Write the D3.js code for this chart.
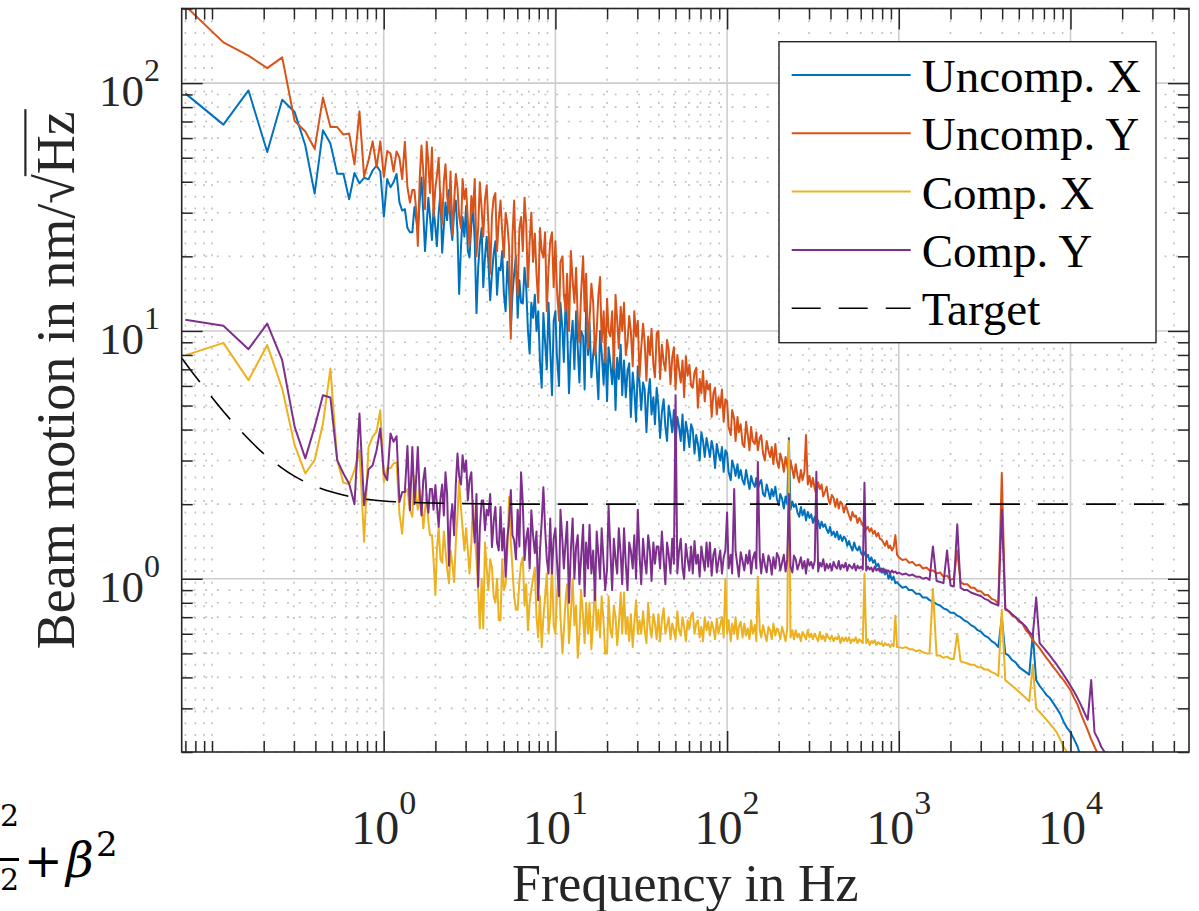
<!DOCTYPE html>
<html>
<head>
<meta charset="utf-8">
<script src="https://cdn.jsdelivr.net/npm/d3@7"></script>
<style>
  body { margin: 0; background: #fff; }
  svg { display: block; }
</style>
</head>
<body>
<div id="grafico"></div>
<script>
// Frequências (Hz): bins lineares no início, depois ~100 pontos por década
const freqLow = [0.0699,0.1165,0.1631,0.2097,0.2563,0.3029,0.3495,0.3961,0.4427,0.4893,0.5359,0.5825,0.6291,0.6757,0.7223,0.7689,0.8155,0.8621,0.9087,0.9553,1.0019,1.0485,1.0951,1.1417,1.1883,1.2349,1.2815,1.3281,1.3747,1.4213,1.4679];
const freqD0 = [1.51,1.55,1.58,1.62,1.66,1.70,1.74,1.78,1.82,1.86, 1.91,1.95,2.00,2.04,2.09,2.14,2.19,2.24,2.29,2.34, 2.40,2.45,2.51,2.57,2.63,2.69,2.75,2.82,2.88,2.95, 3.02,3.09,3.16,3.24,3.31,3.39,3.47,3.55,3.63,3.72, 3.80,3.89,3.98,4.07,4.17,4.27,4.37,4.47,4.57,4.68, 4.79,4.90,5.01,5.13,5.25,5.37,5.50,5.62,5.75,5.89, 6.03,6.17,6.31,6.46,6.61,6.76,6.92,7.08,7.24,7.41, 7.59,7.76,7.94,8.13,8.32,8.51,8.71,8.91,9.12,9.33, 9.55,9.77];
const freqD1 = [10.0,10.2,10.5,10.7,11.0,11.2,11.5,11.7,12.0,12.3, 12.6,12.9,13.2,13.5,13.8,14.1,14.5,14.8,15.1,15.5, 15.8,16.2,16.6,17.0,17.4,17.8,18.2,18.6,19.1,19.5, 20.0,20.4,20.9,21.4,21.9,22.4,22.9,23.4,24.0,24.5, 25.1,25.7,26.3,26.9,27.5,28.2,28.8,29.5,30.2,30.9, 31.6,32.4,33.1,33.9,34.7,35.5,36.3,37.2,38.0,38.9, 39.8,40.7,41.7,42.7,43.7,44.7,45.7,46.8,47.9,49.0, 50.1,51.3,52.5,53.7,55.0,56.2,57.5,58.9,60.3,61.7, 63.1,64.6,66.1,67.6,69.2,70.8,72.4,74.1,75.9,77.6, 79.4,81.3,83.2,85.1,87.1,89.1,91.2,93.3,95.5,97.7];
const freqD2 = [100,102,105,107,110,112,115,117,120,123, 126,129,132,135,138,141,145,148,151,155, 158,162,166,170,174,178,182,186,191,195, 200,204,209,214,219,224,229,234,240,245, 251,257,263,269,275,282,288,295,302,309, 316,324,331,339,347,355,363,372,380,389, 398,407,417,427,437,447,457,468,479,490, 501,513,525,537,550,562,575,589,603,617, 631,646,661,676,692,708,724,741,759,776, 794,813,832,851,871,891,912,933,955,977];
const freqD3 = [1000,1050,1100,1150,1200,1260,1320,1380,1450,1510,1580,1660,1740,1820,1910,2000,2090,2190,2290,2400,2510,2630,2750,2880,3020,3160,3310,3470,3630,3800,3980,4170,4370,4570,4790,5010,5250,5500,5750,6030,6310,6610,6920,7240,7590,7940,8320,8710,9120,9550];
const freqD4 = [10000,10500,11000,11500,12000,12600,13200,13800,14500,15100,15800,16600,17400];
const frequencias = [].concat(freqLow, freqD0, freqD1, freqD2, freqD3, freqD4);

// Movimento do feixe em nm/sqrt(Hz), na mesma ordem das frequências
const uncompX = [].concat(
  [90.9,68,93.4,52.7,85.7,76.4,56,35.8,64.5,57,43.1,43.1,34,43.4,39.4,41.5,40.9,44.4,46.5,44,29,41,38,39.8,43,33,30.6,31,26,25,25],
  [31.6,28,25.4,33,41.6,30,21,27,34.5,29, 23.3,31,26.2,22,30,36,20.7,26.2,33,28, 37,27,23.3,30,33.6,25,14.1,22,28.8,24, 32,21,19.8,27,31.6,23,11.8,18,22.5,26, 15,20,24,19,13.3,17,20.5,23,14,18, 17.6,21,14.1,12,19,15,10.1,14,17,20, 11.3,16,13,12.9,18,15,10,8.1,13,11.3, 14,10,12,7.5,5.9,11.8,9,7,13,8.5, 5.5,11],
  [12,8,6,13,10,7.5,14,10.5,5.6,9, 11,7,12,8.5,6.2,10,9.5,5.8,12.5,8, 10.8,6.5,8,9.3,7,5.3,10,8.2,6.1,9, 5.2,8.6,7.4,6.1,8.2,4.8,7.8,6.4,8.8,5.5, 7.6,5.4,6.9,7.4,4.5,6.8,5.8,4.3,7.2,6.2, 4.8,6.2,5.8,3.9,5.5,6.4,4.6,5.4,4.2,5.9, 5,3.7,4.7,5.3,4.1,3.6,5,4.5,3.9,4.8, 3.5,4.5,4.1,3.6,4.6,3.3,4.3,3.9,3.4,4.2, 4,3.2,3.8,3.5,3,3.9,3.6,3.1,3.7,3.4, 3.1,3.6,3.3,2.8,3.5,3.2,3.0,3.4,2.7,3.3],
  [3.2,2.7,2.5,3.0,2.8,2.6,2.9,2.55,2.75,2.5, 2.4,2.75,2.5,2.3,2.6,2.45,2.35,2.55,2.3,2.45, 2.5,2.2,2.15,2.4,2.25,2.1,2.3,2.15,2.35,2.1, 1.98,2.2,2.1,1.92,2.15,2.0,3.7,1.9,2.05,1.95, 2.0,1.85,1.78,1.95,1.8,1.9,1.72,1.86,1.76,1.82, 1.68,1.78,1.65,1.72,1.6,1.7,1.62,1.66,1.58,1.53, 1.62,1.5,1.55,1.47,1.55,1.44,1.5,1.42,1.48,1.45, 1.36,1.42,1.35,1.3,1.4,1.33,1.3,1.35,1.27,1.24, 1.28,1.22,1.25,1.18,1.22,1.16,1.19,1.12,1.15,1.1, 1.06,1.1,1.04,1.08,1.0,1.04,0.99,1.02,0.96,0.97],
  [0.95,0.92,0.93,0.9,0.9,0.87,0.87,0.84,0.84,0.82,0.81,0.79,0.78,0.76,0.75,0.73,0.73,0.71,0.7,0.68,0.67,0.65,0.64,0.62,0.61,0.59,0.58,0.56,0.55,0.53,0.7,0.5,0.49,0.47,0.46,0.44,0.43,0.42,0.41,0.6,0.39,0.37,0.355,0.34,0.33,0.315,0.3,0.285,0.265,0.25],
  [0.24,0.225,0.21,0.19,0.175,0.16,0.15,0.14,0.13,0.12,0.11,0.1,0.09]
);
const uncompY = [].concat(
  [205,146,129,115,127,70.3,63.8,54.3,87.4,66.5,66.5,62,62.6,47,76.9,42,48.7,58.2,45.8,58.2,41.8,53.2,52,44,53,50,41,58,38,33,37],
  [37,30,22,41,56,44,31,58,48,36, 55,29,38,42,50,33,27,40,47,35, 30,44,24.4,33,43,37.9,29,26,41,34, 37.6,28,22,35,30,41,20,26,39.8,31, 24,34,38.6,27,17,29,34.5,36,21,28, 33.6,25,19.8,30,27,22,9.3,24,33.6,18, 14,26,28.8,21,34.5,27,15,23,30,19, 24.7,17,13,26,21,19.8,25,12,18,23, 25,15],
  [23,15,11,19,20,14,12,17,10,21, 16,13,18,11,9,14,20,12,17,8.5, 11,15.5,13,8,10,14,16.5,9,12,7.5, 13.5,10,9.5,12,7,14,11,8.5,12.5,10, 13,8,9,11.5,10,7.2,12,9.5,11,6.5, 8.5,10.7,9,6.3,9.5,8,10.2,7.3,6.5,9.8, 10,6.4,8.8,7.5,6.9,9.2,8.4,6.1,7.8,8.6, 5.8,8,7,6.2,7.6,5.4,7.9,6.6,7.3,6, 5.9,6.8,7.1,4.9,6.4,5.6,6.9,5.2,6.3,5.8, 6.1,4.5,5.6,5.9,4.6,5.4,4.9,5.8,4.3,5.3],
  [5.2,4.1,3.8,4.8,4.4,3.6,4.5,3.9,4.2,3.5, 3.4,4.3,3.8,3.3,4.1,3.6,3.5,3.9,3.3,3.7, 3.8,3.2,3.0,3.6,3.3,3.1,3.4,2.9,3.5,3.0, 2.8,3.2,3.0,2.7,3.1,2.85,2.6,3.0,2.75,2.55, 2.9,2.6,2.45,2.75,2.5,2.7,3.8,2.4,2.6,2.35, 2.55,2.3,2.2,2.45,2.3,2.4,2.15,2.25,2.35,2.1, 2.0,2.18,2.12,1.95,2.1,1.92,2.05,2.0,1.85,1.98, 1.9,1.8,1.72,1.86,1.78,1.8,1.68,1.76,1.7,1.64, 1.66,1.58,1.62,1.55,1.6,1.52,1.56,1.48,1.53,1.45, 1.44,1.4,1.36,1.42,1.33,1.36,1.3,1.34,1.5,1.25],
  [1.22,1.19,1.2,1.16,1.17,1.13,1.14,1.1,1.11,1.08,1.08,1.05,1.06,1.02,1.03,0.99,1.0,1.3,0.97,0.95,0.95,0.92,0.92,0.89,0.89,0.86,0.86,0.83,0.82,0.79,2.68,0.75,0.74,0.71,0.7,0.67,0.66,0.62,0.6,0.565,0.545,0.525,0.5,0.48,0.46,0.44,0.423,0.405,0.39,0.372],
  [0.355,0.33,0.31,0.285,0.265,0.245,0.225,0.21,0.195,0.18,0.165,0.15,0.135]
);
const compX = [].concat(
  [7.97,8.95,6.33,8.77,5.86,3.46,2.66,3.01,4.23,7.05,3.01,2.44,2.41,2.74,3.3,1.41,3.4,3.74,3.92,4.79,2.46,2.79,2.79,2.92,2.95,1.83,1.52,2.22,2.3,1.89,1.78],
  [2.6,2.1,1.9,2.3,2.1,1.6,1.9,2.2,1.7,1.5, 1.5,1.2,0.86,1.3,1.62,1.2,1.16,1.55,1.3,1.1, 0.96,1.3,1.15,0.97,1.4,1.8,2.5,1.9,1.6,1.3, 1.6,1.3,1.05,1.4,2.07,1.5,1.2,0.9,0.63,1.0, 0.63,1.4,1.1,0.9,1.2,1.11,0.85,0.8,1.0,0.68, 0.68,1.2,0.9,0.95,1.3,2.14,1.4,1.1,0.85,0.75, 0.75,0.98,1.15,1.22,0.78,0.95,0.62,0.8,0.9,1.0, 1.11,0.7,0.58,0.85,0.53,0.7,0.85,1.05,0.6,0.72, 1.15,0.65],
  [0.6,0.85,1.05,0.7,0.5,0.62,0.85,0.95,0.55,0.72, 1.0,0.65,0.78,0.48,0.6,0.9,0.7,0.55,0.8,0.6, 0.8,0.52,0.68,0.95,0.62,0.75,0.58,0.85,0.66,0.5, 0.5,0.85,0.62,0.58,0.78,0.7,0.54,0.65,0.88,0.6, 0.88,0.6,0.7,0.56,0.72,0.53,0.66,0.82,0.6,0.68, 0.6,0.74,0.62,0.55,0.8,0.64,0.58,0.72,0.66,0.57, 0.72,0.56,0.68,0.76,0.6,0.65,0.7,0.57,0.66,0.62, 0.57,0.74,0.62,0.59,0.7,0.64,0.56,0.68,0.63,0.71, 0.73,0.6,0.66,0.68,0.58,0.64,0.56,0.7,0.62,0.67, 0.59,0.67,0.63,0.57,0.69,0.6,0.65,0.7,0.58,1.0],
  [0.6,0.68,0.56,0.66,0.6,0.7,0.57,0.64,0.67,0.58, 0.66,0.59,0.63,0.57,0.68,0.6,0.65,0.56,1.02,0.62, 0.58,0.65,0.6,0.56,0.64,0.62,0.57,0.66,0.59,0.63, 0.61,0.57,0.64,0.6,0.56,0.63,3.6,0.58,0.62,0.57, 0.62,0.58,0.6,0.56,0.61,0.59,0.57,0.62,0.58,0.6, 0.57,0.6,0.58,0.56,0.61,0.57,0.59,0.56,0.6,0.58, 0.57,0.59,0.56,0.58,0.57,0.59,0.55,0.58,0.56,0.58, 0.56,0.58,0.55,0.57,0.56,0.58,0.55,0.57,0.56,0.55, 1.05,0.55,0.57,0.54,0.56,0.55,0.565,0.54,0.555,0.545, 0.55,0.535,0.55,0.54,0.545,0.53,0.545,0.535,0.71,0.53],
  [0.53,0.525,0.53,0.52,0.52,0.51,0.515,0.505,0.5,0.5,0.91,0.49,0.49,0.48,0.485,0.475,0.475,0.6,0.465,0.46,0.455,0.45,0.45,0.44,0.44,0.43,0.43,0.42,0.415,0.405,0.75,0.39,0.38,0.37,0.36,0.35,0.34,0.33,0.32,0.45,0.3,0.29,0.28,0.27,0.26,0.25,0.24,0.225,0.21,0.2],
  [0.19,0.175,0.165,0.155,0.145,0.135,0.125,0.115,0.11,0.1,0.095,0.09,0.085]
);
const compY = [].concat(
  [11.1,10.5,8.44,10.7,7.62,4.1,3.06,4.1,5.5,5.39,3.01,2.66,2.42,2.0,4.64,1.98,2.76,2.87,3.3,4.04,2.66,2.5,3.86,3.57,3.76,2.04,2.24,2.24,3.43,1.89,3.4],
  [2.0,2.6,3.4,2.2,1.8,2.5,2.8,2.1,1.85,2.3, 2.3,1.9,2.39,2.0,1.62,2.1,2.4,1.8,2.69,2.2, 1.13,1.7,2.0,1.5,2.4,3.2,2.6,2.4,3.15,2.7, 3.0,2.07,2.5,2.69,1.8,1.4,2.2,0.93,1.6,2.07, 2.07,1.57,1.9,1.8,2.2,1.34,1.7,1.95,1.4,1.3, 1.95,1.3,1.6,1.02,1.45,1.7,2.28,1.5,1.43,1.2, 1.9,1.35,2.69,2.0,1.19,1.45,1.6,1.1,1.89,1.5, 1.27,1.55,0.82,1.3,1.7,2.34,1.6,1.2,1.05,1.75, 1.05,1.45],
  [1.6,1.2,0.85,1.9,1.4,1.1,1.45,1.7,0.8,1.3, 1.75,1.0,1.35,1.5,0.95,1.2,1.65,0.85,1.4,1.1, 1.65,1.05,1.3,0.82,1.55,1.25,1.0,1.6,1.15,0.9, 1.1,1.98,1.3,0.9,1.45,1.2,1.05,1.6,1.25,0.95, 1.6,1.15,0.9,1.4,1.3,1.1,1.5,1.0,1.9,1.25, 0.95,1.45,1.2,1.05,1.5,1.3,0.98,1.4,1.15,1.35, 1.35,1.1,1.55,1.2,0.95,1.4,1.25,1.05,1.45,1.15, 5.5,1.05,1.3,1.45,1.1,1.0,1.38,1.2,1.08,1.35, 1.05,1.42,1.15,1.25,1.02,1.35,1.2,1.08,1.4,1.12, 1.4,1.03,1.25,1.32,1.06,1.18,1.3,1.05,1.22,1.3],
  [1.85,1.1,1.25,1.05,2.3,1.3,1.12,1.02,1.28,1.18, 1.08,1.25,1.15,1.3,1.05,1.2,1.28,1.1,2.96,1.22, 1.05,1.26,1.14,1.06,1.24,1.18,1.04,1.22,1.1,1.27, 1.22,1.08,1.16,1.25,1.07,1.2,2.2,1.12,1.06,1.24, 1.2,1.09,1.15,1.22,1.1,1.18,1.05,1.2,1.13,1.17, 1.1,1.18,2.7,1.07,1.16,1.12,1.2,1.08,1.15,1.1, 1.15,1.08,1.17,1.12,1.1,1.18,1.09,1.14,1.11,1.16, 1.08,1.14,1.12,1.1,1.15,1.08,1.13,1.1,1.12,1.09, 2.44,1.08,1.12,1.09,1.11,1.07,1.12,1.08,1.1,1.07, 1.1,1.06,1.09,1.07,1.08,1.05,1.08,1.06,1.07,1.05],
  [1.06,1.04,1.05,1.03,1.04,1.02,1.02,1.0,1.01,0.99,1.35,0.98,0.97,0.96,1.3,0.94,0.93,1.66,0.92,0.9,0.9,0.88,0.87,0.86,0.85,0.83,0.82,0.8,0.79,0.78,1.9,0.76,0.74,0.72,0.7,0.68,0.66,0.64,0.61,0.59,0.84,0.55,0.53,0.51,0.49,0.47,0.45,0.43,0.41,0.39],
  [0.37,0.35,0.33,0.31,0.29,0.27,0.39,0.24,0.225,0.21,0.2,0.185,0.17]
);

// Curva alvo (tracejada)
const targetFreq = [0.0666,0.08,0.1,0.12,0.15,0.2,0.25,0.3,0.4,0.5,0.7,1,1.5,2,3,5,10,100,1000,10000,49000];
const targetVals = [7.77,6.56,5.39,4.62,3.89,3.2,2.83,2.6,2.36,2.24,2.12,2.06,2.03,2.02,2.01,2.0,2.0,2.0,2.0,2.0,2.0];

// Rótulos e ticks
const xMajor = [1, 10, 100, 1000, 10000];
const xMajorExp = ["0", "1", "2", "3", "4"];
const yMajor = [1, 10, 100];
const yMajorExp = ["0", "1", "2"];
const legendLabels = ["Uncomp. X", "Uncomp. Y", "Comp. X", "Comp. Y", "Target"];
const xLabel = "Frequency in Hz";
const yLabel = "Beam motion in nm/√Hz";

const series = [
  { nome: legendLabels[0], valores: uncompX, cor: "#0072BD" },
  { nome: legendLabels[1], valores: uncompY, cor: "#D95319" },
  { nome: legendLabels[2], valores: compX, cor: "#EDB120" },
  { nome: legendLabels[3], valores: compY, cor: "#7E2F8E" }
];

const serif = "'Liberation Serif', 'Times New Roman', serif";
const corEixo = "#262626";
const area = { esq: 181.7, dir: 1189, topo: 8.5, base: 752 };

const svg = d3.select("#grafico").append("svg")
    .attr("width", 1199)
    .attr("height", 911);

const xScale = d3.scaleLog().domain([0.0666, 49000]).range([area.esq, area.dir]);
const yScale = d3.scaleLog().domain([0.2, 200]).range([area.base, area.topo]);

// ticks menores
const xMinor = [];
for (let e = -2; e <= 4; e++) {
    for (let m = 1; m <= 9; m++) {
        const v = +(m * Math.pow(10, e)).toPrecision(3);
        if (v >= 0.0666 && v <= 49000 && !xMajor.includes(v)) xMinor.push(v);
    }
}
const yMinor = [];
for (let e = -1; e <= 2; e++) {
    for (let m = 1; m <= 9; m++) {
        const v = +(m * Math.pow(10, e)).toPrecision(3);
        if (v >= 0.2 && v <= 200 && !yMajor.includes(v)) yMinor.push(v);
    }
}

// Grade
const grade = svg.append("g");
grade.selectAll(".gx-min").data(xMinor).enter().append("line")
    .attr("x1", d => xScale(d)).attr("x2", d => xScale(d))
    .attr("y1", area.topo).attr("y2", area.base)
    .attr("stroke", "#c2c2c2").attr("stroke-width", 1.6).attr("stroke-dasharray", "2,9.7");
grade.selectAll(".gy-min").data(yMinor).enter().append("line")
    .attr("x1", area.esq).attr("x2", area.dir)
    .attr("y1", d => yScale(d)).attr("y2", d => yScale(d))
    .attr("stroke", "#c2c2c2").attr("stroke-width", 1.6).attr("stroke-dasharray", "2,9.7");
grade.selectAll(".gx").data(xMajor).enter().append("line")
    .attr("x1", d => xScale(d)).attr("x2", d => xScale(d))
    .attr("y1", area.topo).attr("y2", area.base)
    .attr("stroke", "#cdcdcd").attr("stroke-width", 1.6);
grade.selectAll(".gy").data(yMajor).enter().append("line")
    .attr("x1", area.esq).attr("x2", area.dir)
    .attr("y1", d => yScale(d)).attr("y2", d => yScale(d))
    .attr("stroke", "#cdcdcd").attr("stroke-width", 1.6);

// Linhas de dados
svg.append("clipPath").attr("id", "recorte").append("rect")
    .attr("x", area.esq).attr("y", area.topo)
    .attr("width", area.dir - area.esq).attr("height", area.base - area.topo);

const linha = d3.line()
    .defined((d, i) => i < frequencias.length)
    .x((d, i) => xScale(frequencias[i]))
    .y(d => yScale(d));

const dados = svg.append("g").attr("clip-path", "url(#recorte)");
series.forEach(s => {
    dados.append("path")
        .datum(s.valores)
        .attr("d", linha)
        .attr("fill", "none")
        .attr("stroke", s.cor)
        .attr("stroke-width", 2)
        .attr("stroke-linejoin", "round");
});

const linhaAlvo = d3.line()
    .x((d, i) => xScale(targetFreq[i]))
    .y(d => yScale(d))
    .curve(d3.curveMonotoneX);
dados.append("path")
    .datum(targetVals)
    .attr("d", linhaAlvo)
    .attr("fill", "none")
    .attr("stroke", "#000")
    .attr("stroke-width", 1.6)
    .attr("stroke-dasharray", "30,18");

// Eixos (ticks para dentro nos quatro lados)
function desenhaEixo(eixo, transform) {
    svg.append("g")
        .attr("transform", transform)
        .attr("color", corEixo)
        .call(eixo.tickSizeOuter(0).tickFormat(""))
        .call(g => g.select(".domain").remove())
        .call(g => g.selectAll(".tick line").attr("stroke-width", 1.5));
}
desenhaEixo(d3.axisBottom(xScale).tickValues(xMajor).tickSize(-21), `translate(0,${area.base})`);
desenhaEixo(d3.axisBottom(xScale).tickValues(xMinor).tickSize(-11), `translate(0,${area.base})`);
desenhaEixo(d3.axisTop(xScale).tickValues(xMajor).tickSize(-21), `translate(0,${area.topo})`);
desenhaEixo(d3.axisTop(xScale).tickValues(xMinor).tickSize(-11), `translate(0,${area.topo})`);
desenhaEixo(d3.axisLeft(yScale).tickValues(yMajor).tickSize(-21), `translate(${area.esq},0)`);
desenhaEixo(d3.axisLeft(yScale).tickValues(yMinor).tickSize(-11), `translate(${area.esq},0)`);
desenhaEixo(d3.axisRight(yScale).tickValues(yMajor).tickSize(-21), `translate(${area.dir},0)`);
desenhaEixo(d3.axisRight(yScale).tickValues(yMinor).tickSize(-11), `translate(${area.dir},0)`);

svg.append("rect")
    .attr("x", area.esq).attr("y", area.topo)
    .attr("width", area.dir - area.esq).attr("height", area.base - area.topo)
    .attr("fill", "none").attr("stroke", corEixo).attr("stroke-width", 1.6);

// Rótulos dos ticks (10^n)
const xRot = svg.append("g").selectAll("text").data(xMajor).enter().append("text")
    .attr("x", d => xScale(d)).attr("y", 844)
    .attr("text-anchor", "middle")
    .style("font-family", serif).style("font-size", "48px").attr("fill", corEixo);
xRot.append("tspan").text("10");
xRot.append("tspan").attr("dy", -30).style("font-size", "34px").text((d, i) => xMajorExp[i]);

const yRot = svg.append("g").selectAll("text").data(yMajor).enter().append("text")
    .attr("x", 160).attr("y", d => yScale(d) + 23)
    .attr("text-anchor", "end")
    .style("font-family", serif).style("font-size", "45px").attr("fill", corEixo);
yRot.append("tspan").text("10");
yRot.append("tspan").attr("dy", -25).style("font-size", "32px").text((d, i) => yMajorExp[i]);

// Títulos dos eixos
svg.append("text")
    .attr("x", (area.esq + area.dir) / 2).attr("y", 901)
    .attr("text-anchor", "middle")
    .style("font-family", serif).style("font-size", "52px").attr("fill", corEixo)
    .text(xLabel);

const tamY = 54;
const grupoY = svg.append("g").attr("transform", `translate(74,${(area.topo + area.base) / 2}) rotate(-90)`);
const textoY = grupoY.append("text")
    .attr("text-anchor", "middle")
    .style("font-family", serif).style("font-size", tamY + "px").attr("fill", corEixo)
    .text(yLabel);
const noY = textoY.node();
const totalY = noY.getComputedTextLength();
const iRaiz = yLabel.indexOf("√");
const iniBarra = -totalY / 2 + noY.getSubStringLength(0, iRaiz + 1);
grupoY.append("line")
    .attr("x1", iniBarra - 2).attr("x2", totalY / 2 + 2)
    .attr("y1", -tamY * 0.9).attr("y2", -tamY * 0.9)
    .attr("stroke", corEixo).attr("stroke-width", 2.2);

// Legenda
const leg = svg.append("g");
leg.append("rect")
    .attr("x", 779).attr("y", 41.7).attr("width", 377).attr("height", 301)
    .attr("fill", "#fff").attr("stroke", corEixo).attr("stroke-width", 1.4);
const itens = series.map(s => ({ nome: s.nome, cor: s.cor, traco: null }))
    .concat([{ nome: legendLabels[4], cor: "#000", traco: "29,18" }]);
itens.forEach((it, i) => {
    const yy = 75 + i * 58.3;
    leg.append("line")
        .attr("x1", 791.7).attr("x2", 910.7).attr("y1", yy).attr("y2", yy)
        .attr("stroke", it.cor).attr("stroke-width", it.traco ? 1.6 : 2)
        .attr("stroke-dasharray", it.traco);
    leg.append("text")
        .attr("x", 921.7).attr("y", yy + 17)
        .style("font-family", serif).style("font-size", "47px").attr("fill", "#000")
        .text(it.nome);
});

// Fragmento de fórmula no canto inferior esquerdo
const frag = svg.append("g").style("font-family", "'DejaVu Serif', serif").attr("fill", "#000");
frag.append("text").attr("x", 0).attr("y", 826).style("font-size", "30px").text("2");
frag.append("rect").attr("x", 0).attr("y", 858).attr("width", 19).attr("height", 3);
frag.append("text").attr("x", 0).attr("y", 890).style("font-size", "30px").text("2");
frag.append("text").attr("x", 24).attr("y", 877).style("font-size", "46px").text("+");
frag.append("text").attr("x", 66).attr("y", 877).style("font-size", "48px").style("font-style", "italic").text("β");
frag.append("text").attr("x", 96).attr("y", 856).style("font-size", "34px").text("2");
</script>
</body>
</html>
